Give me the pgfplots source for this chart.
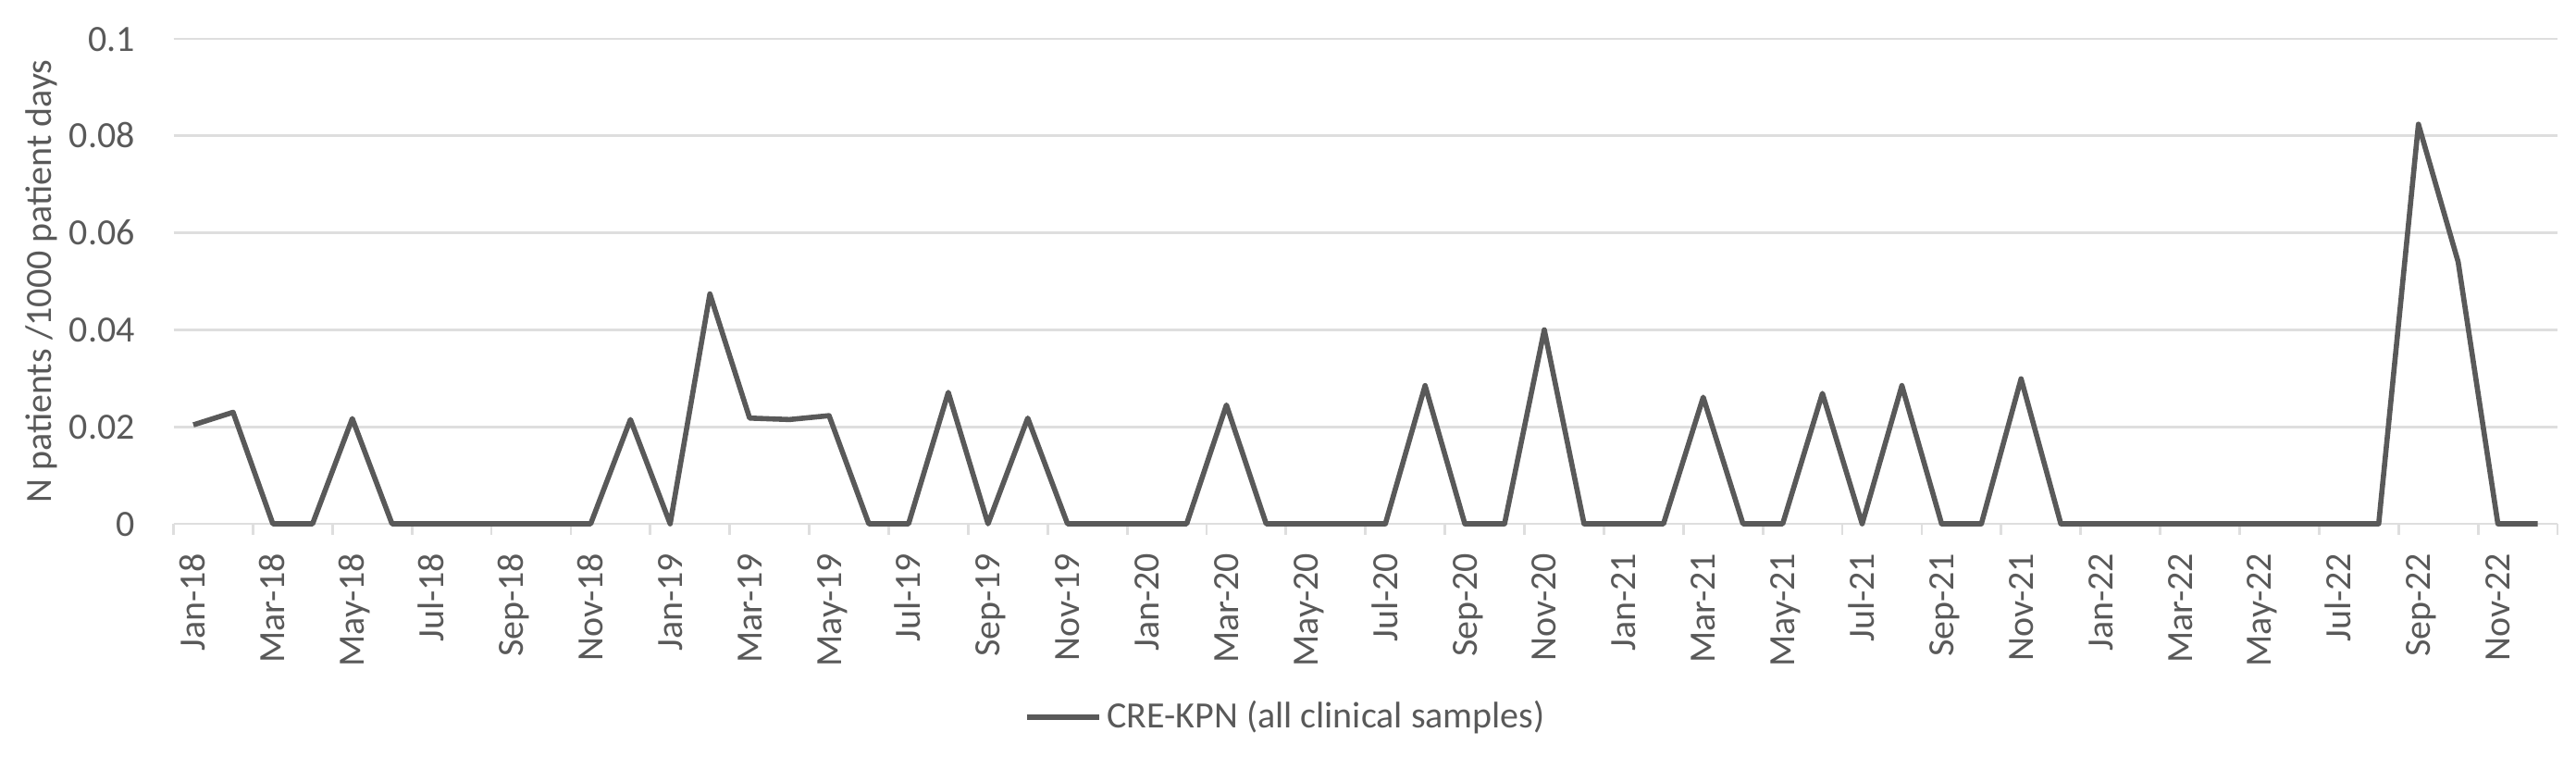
\documentclass[border=0pt]{standalone}
\usepackage{fontspec}
\setmainfont{Carlito}
\usepackage{pgfplots}
\pgfplotsset{compat=1.18}
\definecolor{txt}{HTML}{595959}
\definecolor{grd}{HTML}{DEDEDE}
\definecolor{ln}{HTML}{595959}
\pgfplotstableread{
x y
0 0.0204
1 0.0230
2 0
3 0
4 0.0217
5 0
6 0
7 0
8 0
9 0
10 0
11 0.0215
12 0
13 0.0474
14 0.0218
15 0.0215
16 0.0223
17 0
18 0
19 0.0271
20 0
21 0.0218
22 0
23 0
24 0
25 0
26 0.0245
27 0
28 0
29 0
30 0
31 0.0285
32 0
33 0
34 0.0400
35 0
36 0
37 0
38 0.0261
39 0
40 0
41 0.0269
42 0
43 0.0285
44 0
45 0
46 0.0299
47 0
48 0
49 0
50 0
51 0
52 0
53 0
54 0
55 0
56 0.0824
57 0.0540
58 0
59 0
}\datatable
\begin{document}
\begin{tikzpicture}[font=\fontsize{10}{12}\selectfont]
\path[use as bounding box] (-46.875pt,-62.75pt) rectangle (649.125pt,141.5pt);
\begin{axis}[
  at={(0,0)}, anchor=south west,
  scale only axis, width=644.125pt, height=131pt,
  xmin=-0.5, xmax=59.5, ymin=0, ymax=0.1,
  clip=false,
  separate axis lines,
  x axis line style={draw=grd, line width=0.7pt},
  y axis line style={draw=none},
  ymajorgrids=true,
  grid style={draw=grd, line width=0.7pt},
  xtick={0,2,...,58},
  xticklabels={Jan-18,Mar-18,May-18,Jul-18,Sep-18,Nov-18,Jan-19,Mar-19,May-19,Jul-19,Sep-19,Nov-19,Jan-20,Mar-20,May-20,Jul-20,Sep-20,Nov-20,Jan-21,Mar-21,May-21,Jul-21,Sep-21,Nov-21,Jan-22,Mar-22,May-22,Jul-22,Sep-22,Nov-22},
  minor xtick={-0.5,1.5,...,59.5},
  xtick pos=bottom, ytick pos=left,
  tick align=outside,
  major tick length=0pt,
  minor tick length=3pt,
  minor tick style={draw=grd, line width=0.7pt},
  xticklabel style={rotate=90, anchor=east, inner sep=0pt, text height=6.5pt, text depth=0pt, color=txt},
  xticklabel shift=7.75pt,
  ytick={0,0.02,0.04,0.06,0.08,0.1},
  yticklabels={0,0.02,0.04,0.06,0.08,0.1},
  scaled y ticks=false,
  yticklabel style={anchor=east, inner sep=0pt, text height=6.5pt, text depth=0pt, color=txt},
  yticklabel shift=10.25pt,
  ylabel={N patients /1000 patient days},
  ylabel style={at={(axis description cs:-0.0553,0.5)}, anchor=center, color=txt, inner sep=0pt},
  legend style={at={(axis description cs:0.3565,-0.399)}, anchor=west, draw=none, fill=none, inner sep=0pt, text=txt,
    nodes={inner sep=0pt}},
  legend cell align=left,
  legend image code/.code={\draw[#1, line width=1.4pt] (0pt,0pt) -- (19.5pt,0pt);},
  legend style={/tikz/every odd column/.append style={column sep=1.5pt}},
]
\addplot[ln, line width=1.4pt, line join=round, mark=none] table[x=x,y=y] {\datatable};
\addlegendentry{CRE-KPN (all clinical samples)}
\end{axis}
\end{tikzpicture}
\end{document}
